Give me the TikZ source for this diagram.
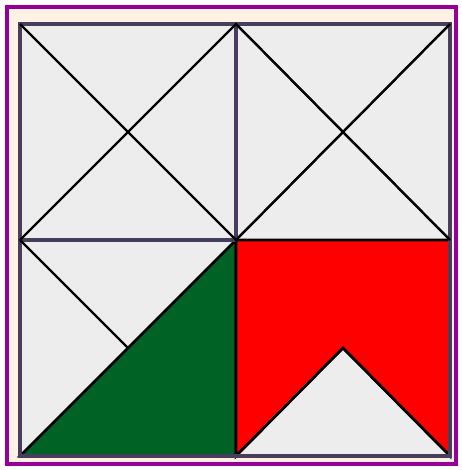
\documentclass[tikz,border=0pt]{standalone}
\usepackage{tikz}
\usetikzlibrary{calc}
\definecolor{framepurple}{RGB}{150,0,150}
\definecolor{bandcream}{RGB}{255,242,228}
\definecolor{cellgrey}{RGB}{237,237,237}
\definecolor{gridline}{RGB}{70,62,90}
\definecolor{darkgreen}{RGB}{0,98,36}
\definecolor{pure red}{RGB}{255,0,0}
\begin{document}
\begin{tikzpicture}[x=0.02cm, y=-0.02cm]
    % Define styles
    \tikzstyle{frame} = [draw=framepurple, line width=2.4pt, fill=bandcream]
    \tikzstyle{grid line} = [draw=gridline, line width=1.9pt]
    \tikzstyle{diag line} = [draw=black, line width=1.4pt]
    \tikzstyle{piece} = [draw=black, line width=1.6pt, line join=miter]

    \useasboundingbox (0,0) rectangle (462,470);

    % Corners of the square
    \coordinate (tl) at (20,24);
    \coordinate (tr) at (450,24);
    \coordinate (bl) at (20,456);
    \coordinate (br) at (450,456);
    \coordinate (c) at (236,240);
    \coordinate (tm) at (236,24);
    \coordinate (bm) at (236,456);
    \coordinate (lm) at (20,240);
    \coordinate (rm) at (450,240);
    \coordinate (q) at (128,348);
    \coordinate (apex) at (343,348);

    % Frame
    \draw[frame] (7,7) rectangle (456,464);
    \fill[cellgrey] (tl) rectangle (br);

    % Coloured pieces
    \filldraw[piece, fill=darkgreen] (bl) -- (c) -- (bm) -- cycle;
    \filldraw[piece, fill=pure red] (c) -- (rm) -- (br) -- (apex) -- (bm) -- cycle;

    % Grid
    \draw[grid line] (tl) rectangle (br);
    \draw[grid line] (tm) -- (c);
    \draw[grid line] (lm) -- (c);

    % Diagonals
    \draw[diag line] (tl) -- (c) -- (tr);
    \draw[diag line] (lm) -- (tm) -- (rm);
    \draw[diag line] (lm) -- (q);
\end{tikzpicture}
\end{document}
